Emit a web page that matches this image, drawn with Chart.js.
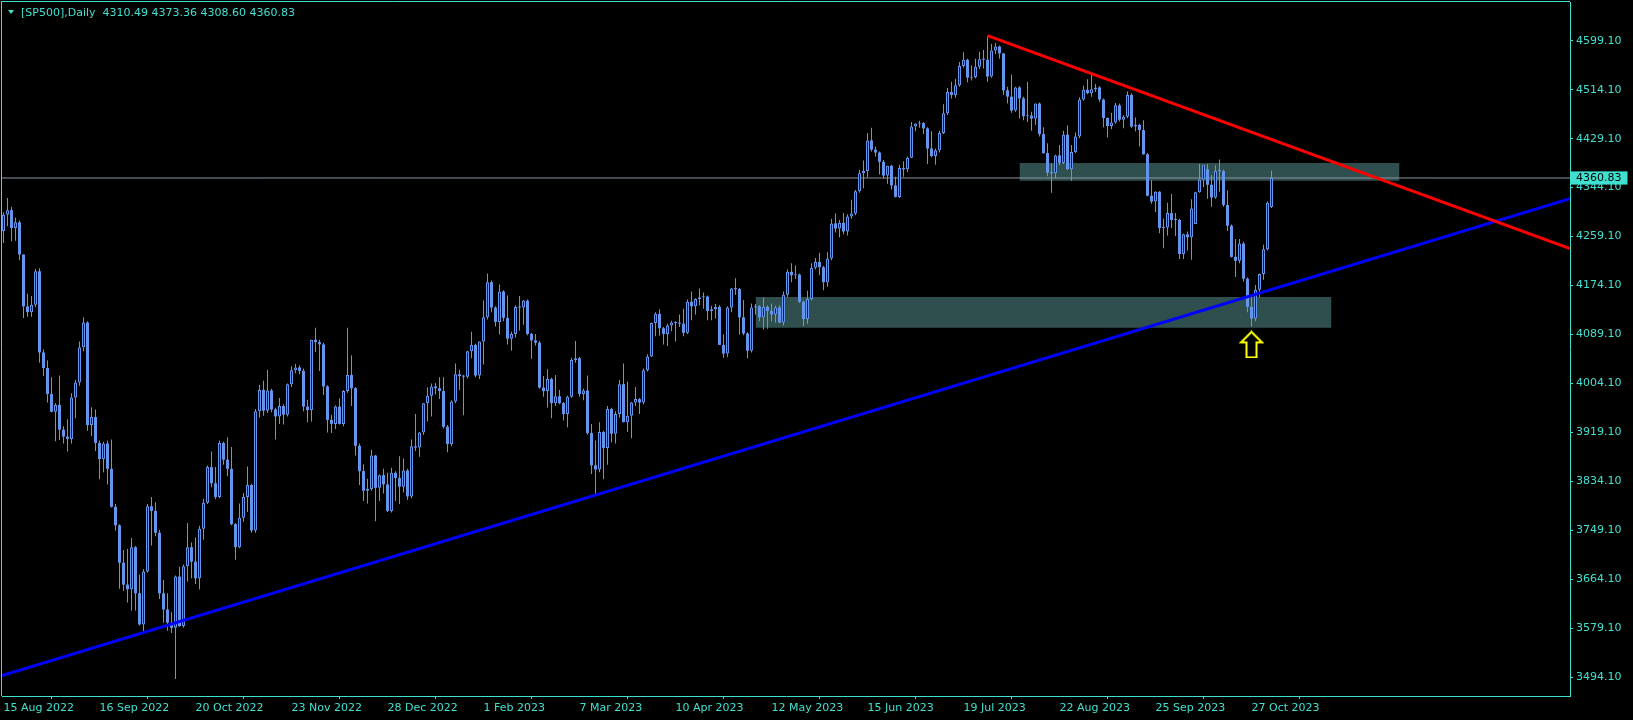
<!DOCTYPE html>
<html><head><meta charset="utf-8">
<script src="https://cdn.jsdelivr.net/npm/chart.js@4.4.0/dist/chart.umd.min.js"></script>
<style>
html,body{margin:0;padding:0;background:#000;overflow:hidden}
#wrap{position:relative;width:1633px;height:720px}
canvas{display:block}
#hdr{position:absolute;left:21px;top:6px;font:11px 'DejaVu Sans';color:#40E0D0;line-height:13px;white-space:pre}
#tri{position:absolute;left:8px;top:10px;width:0;height:0;border-left:3.5px solid transparent;border-right:3.5px solid transparent;border-top:4px solid #40E0D0}
</style></head>
<body><div id="wrap"><canvas id="c" width="1633" height="720"></canvas><div id="tri"></div><div id="hdr">[SP500],Daily  4310.49 4373.36 4308.60 4360.83</div></div>
<script>
// ---- data (daily bars, index 0 = 15 Aug 2022) ----
const opens = [4269,4297,4305,4274,4284,4228,4138,4128,4141,4199,4058,4031,3986,3955,3967,3924,3912,3908,3980,4006,
4067,4110,3932,3946,3901,3873,3900,3856,3790,3758,3693,3655,3647,3720,3640,3586,3678,3791,3783,3745,
3640,3612,3589,3580,3669,3583,3687,3720,3695,3666,3752,3797,3859,3831,3807,3901,3872,3856,3760,3720,
3771,3807,3828,3749,3956,3993,3957,3992,3959,3947,3965,3950,4003,4027,4032,4026,3964,3958,4080,4076,
4072,3999,3941,3934,3964,3934,3991,4019,3996,3896,3852,3818,3821,3879,3823,3845,3829,3783,3849,3840,
3825,3853,3808,3895,3893,3919,3970,3983,3999,3996,3991,3929,3899,3973,4020,4017,4016,4060,4071,4018,
4077,4119,4180,4136,4111,4164,4118,4082,4090,4137,4136,4148,4090,4079,4075,3997,3991,4012,3970,3982,
3970,3951,3981,4045,4048,3986,3992,3918,3862,3855,3920,3892,3960,3917,3951,4003,3937,3948,3971,3977,
3971,4027,4051,4109,4125,4100,4090,4105,4110,4109,4108,4092,4146,4138,4151,4154,4155,4130,4133,4137,
4071,4056,4136,4169,4168,4119,4091,4061,4136,4138,4119,4137,4130,4124,4136,4110,4158,4198,4192,4193,
4146,4116,4151,4205,4215,4206,4180,4221,4282,4273,4283,4268,4294,4299,4338,4369,4373,4426,4410,4405,
4389,4365,4382,4348,4328,4378,4376,4396,4450,4455,4456,4447,4412,4399,4409,4439,4473,4510,4505,4522,
4555,4566,4535,4536,4554,4567,4566,4537,4582,4589,4577,4513,4502,4478,4518,4499,4468,4469,4464,4490,
4437,4404,4370,4369,4400,4387,4436,4376,4406,4433,4497,4514,4508,4515,4518,4497,4465,4451,4457,4487,
4462,4467,4505,4450,4453,4444,4402,4330,4320,4337,4274,4275,4300,4288,4288,4229,4263,4258,4281,4336,
4358,4376,4349,4327,4373,4373,4314,4278,4224,4217,4247,4186,4137,4117,4167,4194,4237,4310.49];
const highs = [4301,4326,4311,4292,4287,4228,4160,4156,4203,4204,4063,4044,4015,3970,4018,3930,3942,3987,4010,4077,
4119,4112,3963,3959,3905,3903,3905,3907,3795,3760,3715,3717,3736,3722,3672,3682,3795,3807,3798,3750,
3663,3640,3607,3671,3686,3690,3762,3728,3737,3757,3804,3862,3886,3859,3905,3903,3911,3894,3762,3796,
3814,3860,3830,3960,4002,4009,4028,3995,3962,3979,3968,4004,4034,4038,4036,4030,3976,4080,4101,4080,
4075,4001,3950,3966,3978,3993,4101,4053,3998,3900,3864,3839,3889,3880,3846,3856,3849,3858,3852,3878,
3874,3856,3907,3951,3920,3970,3997,4004,4005,4015,4015,3932,3975,4039,4028,4019,4061,4094,4073,4077,
4148,4195,4183,4138,4176,4166,4157,4094,4140,4156,4149,4150,4092,4090,4078,4017,4029,4014,4019,3993,
3972,3983,4049,4078,4050,3995,4018,3934,3905,3937,3922,3965,3962,3956,4010,4039,4007,3972,3998,3979,
4030,4055,4110,4128,4133,4102,4108,4113,4112,4124,4134,4150,4164,4152,4169,4162,4157,4139,4142,4140,
4089,4138,4170,4187,4170,4149,4093,4143,4142,4140,4154,4140,4143,4139,4140,4164,4202,4213,4209,4195,
4148,4165,4213,4222,4231,4208,4232,4290,4299,4288,4300,4298,4323,4340,4375,4391,4439,4448,4415,4407,
4392,4382,4384,4363,4384,4390,4398,4458,4456,4460,4458,4449,4442,4412,4443,4489,4517,4528,4533,4562,
4579,4568,4556,4568,4580,4583,4607.8,4594,4595,4591,4578,4519,4540,4519,4520,4502,4528,4476,4490,4492,
4449,4421,4386,4401,4418,4443,4452,4418,4440,4501,4521,4532,4541,4524,4520,4499,4466,4474,4491,4490,
4470,4511,4508,4466,4455,4461,4404,4357,4338,4338,4290,4318,4333,4300,4290,4264,4268,4324,4337,4385,
4378,4385,4366,4383,4393,4375,4339,4280,4255,4255,4250,4188,4157,4175,4195,4245,4320,4373.36];
const lows = [4248,4277,4251,4252,4218,4118,4120,4120,4137,4040,4017,3971,3954,3904,3906,3900,3886,3900,3944,4000,
4060,3922,3913,3887,3838,3850,3829,3789,3749,3648,3644,3624,3610,3610,3584,3570,3676,3723,3739,3630,
3589,3575,3571,3491,3582,3580,3660,3666,3656,3647,3733,3795,3824,3803,3805,3863,3843,3758,3698,3718,
3764,3781,3745,3745,3945,3948,3953,3954,3907,3934,3933,3947,3998,4022,4020,3956,3937,3938,4059,4026,
3984,3919,3918,3925,3933,3930,3988,3965,3879,3828,3800,3796,3818,3765,3800,3813,3781,3780,3800,3795,
3815,3802,3805,3887,3877,3915,3938,3947,3985,3977,3926,3885,3895,3970,3993,3949,4013,4048,4015,4012,
4037,4115,4128,4103,4089,4112,4072,4061,4084,4096,4106,4088,4047,4070,3995,3981,3962,3944,3965,3968,
3940,3928,3979,4040,3981,3975,3915,3847,3808,3850,3838,3863,3902,3900,3945,3937,3920,3909,3965,3951,
3968,4025,4050,4086,4087,4072,4069,4095,4077,4102,4086,4090,4114,4124,4140,4134,4114,4114,4117,4071,
4049,4050,4128,4158,4089,4088,4048,4058,4124,4112,4098,4099,4112,4110,4109,4105,4154,4180,4186,4144,
4104,4108,4148,4202,4192,4166,4172,4218,4266,4258,4263,4261,4290,4296,4335,4343,4362,4407,4398,4367,
4360,4351,4341,4327,4326,4363,4371,4395,4442,4448,4437,4385,4397,4384,4405,4437,4470,4499,4500,4519,
4552,4527,4530,4534,4550,4551,4528,4535,4576,4568,4505,4490,4474,4476,4464,4461,4458,4443,4453,4433,
4403,4364,4335,4360,4383,4385,4375,4356,4404,4430,4495,4506,4502,4510,4493,4449,4431,4446,4455,4459,
4447,4465,4448,4442,4416,4401,4329,4316,4302,4265,4239,4261,4274,4260,4220,4220,4235,4219,4281,4335,
4345,4325,4311,4325,4337,4311,4269,4223,4189,4213,4181,4128,4103,4112,4154,4184,4235,4308.60];
const closes = [4297,4305,4274,4284,4228,4138,4128,4141,4199,4058,4031,3986,3955,3967,3924,3912,3908,3980,4006,4067,
4110,3932,3946,3901,3873,3900,3856,3790,3758,3693,3655,3647,3720,3640,3586,3678,3791,3783,3745,3640,
3612,3589,3580,3669,3583,3687,3720,3695,3666,3752,3797,3859,3831,3807,3901,3872,3856,3760,3720,3771,
3807,3828,3749,3956,3993,3957,3992,3959,3947,3965,3950,4003,4027,4032,4026,3964,3958,4080,4076,4072,
3999,3941,3934,3964,3934,3991,4019,3996,3896,3852,3818,3821,3879,3823,3845,3829,3783,3849,3840,3825,
3853,3808,3895,3893,3919,3970,3983,3999,3996,3991,3929,3899,3973,4020,4017,4016,4060,4071,4018,4077,
4119,4180,4136,4111,4164,4118,4082,4090,4137,4136,4148,4090,4079,4075,3997,3991,4012,3970,3982,3970,
3951,3981,4045,4048,3986,3992,3918,3862,3855,3920,3892,3960,3917,3951,4003,3937,3948,3971,3977,3971,
4027,4051,4109,4125,4100,4090,4105,4110,4109,4108,4092,4146,4138,4151,4154,4155,4130,4133,4137,4071,
4056,4136,4169,4168,4119,4091,4061,4136,4138,4119,4137,4130,4124,4136,4110,4158,4198,4192,4193,4146,
4116,4151,4205,4215,4206,4180,4221,4282,4273,4283,4268,4294,4299,4338,4369,4373,4426,4410,4405,4389,
4365,4382,4348,4328,4378,4376,4396,4450,4455,4456,4447,4412,4399,4409,4439,4473,4510,4505,4522,4555,
4566,4535,4536,4554,4567,4566,4537,4582,4589,4577,4513,4502,4478,4518,4499,4468,4469,4464,4490,4437,
4404,4370,4369,4400,4387,4436,4376,4406,4433,4497,4514,4508,4515,4518,4497,4465,4451,4457,4487,4462,
4467,4505,4450,4453,4444,4402,4330,4320,4337,4274,4275,4300,4288,4288,4229,4263,4258,4308,4336,4358,
4384,4349,4327,4373,4373,4314,4278,4224,4217,4247,4186,4137,4117,4167,4194,4237,4318,4360.83];

const xTickIndex = [0,24,48,72,96,120,144,168,192,216,240,264,288,312];
const xTickLabels = ['15 Aug 2022','16 Sep 2022','20 Oct 2022','23 Nov 2022','28 Dec 2022','1 Feb 2023','7 Mar 2023','10 Apr 2023','12 May 2023','15 Jun 2023','19 Jul 2023','22 Aug 2023','25 Sep 2023','27 Oct 2023'];
const yTickValues = [3494.10,3579.10,3664.10,3749.10,3834.10,3919.10,4004.10,4089.10,4174.10,4259.10,4344.10,4429.10,4514.10,4599.10];
const lastPrice = 4360.83;
const xRange = [-0.375, 391.625];
const yRange = [3461.7, 4666.3];
const redTrendX = [246, 391.625], redTrendY = [4607.8, 4238.3];
const blueTrendX = [-0.375, 391.625], blueTrendY = [3497.3, 4324.8];
const upperZoneX = [254, 349], upperZoneY = [4356.0, 4386.8];
const lowerZoneX = [188, 332], lowerZoneY = [4100.9, 4154.2];
const arrowX = 312, arrowY = 4072;

// ---- styles ----
const FG = '#40E0D0', CANDLE = '#6495ED', BULL_FILL = '#0000FF', ZONE = '#2F4F4F';
const FONT = {family: 'DejaVu Sans', size: 11};

const wickData = [], bullData = [], bearData = [];
for (let i = 0; i < closes.length; i++) {
  wickData.push({x: i, y: [lows[i], highs[i]]});
  if (closes[i] >= opens[i]) bullData.push({x: i, y: [opens[i], closes[i]]});
  else bearData.push({x: i, y: [closes[i], opens[i]]});
}

// arrow glyph as point style
const arrow = document.createElement('canvas');
arrow.width = 25; arrow.height = 28;
(function(){
  const g = arrow.getContext('2d');
  g.beginPath();
  g.moveTo(12.5, 1.5); g.lineTo(23, 12); g.lineTo(17.5, 12); g.lineTo(17.5, 27);
  g.lineTo(7.5, 27); g.lineTo(7.5, 12); g.lineTo(2, 12); g.closePath();
  g.fillStyle = '#000'; g.fill();
  g.strokeStyle = '#FFFF00'; g.lineWidth = 2; g.lineJoin = 'miter'; g.stroke();
})();

const barCommon = {categoryPercentage: 1, barPercentage: 1, grouped: false, inflateAmount: 0, borderSkipped: false, minBarLength: 1};
const frame = {
  id: 'frame',
  beforeDraw(chart) {
    const {ctx} = chart;
    ctx.save(); ctx.fillStyle = '#000'; ctx.fillRect(0, 0, chart.width, chart.height); ctx.restore();
  },
  afterDraw(chart) {
    const {ctx, chartArea: a} = chart;
    ctx.save(); ctx.strokeStyle = FG; ctx.lineWidth = 1;
    ctx.beginPath();
    ctx.moveTo(a.left - 0.5, a.bottom); ctx.lineTo(a.left - 0.5, a.top - 0.5); ctx.lineTo(a.right, a.top - 0.5);
    ctx.stroke(); ctx.restore();
  }
};

new Chart(document.getElementById('c'), {
  type: 'bar',
  data: {
    datasets: [
      {type: 'line', data: [{x: upperZoneX[0], y: upperZoneY[1]}, {x: upperZoneX[1], y: upperZoneY[1]}], borderWidth: 0, pointRadius: 0, backgroundColor: ZONE, fill: {value: upperZoneY[0]}, order: 20},
      {type: 'line', data: [{x: lowerZoneX[0], y: lowerZoneY[1]}, {x: lowerZoneX[1], y: lowerZoneY[1]}], borderWidth: 0, pointRadius: 0, backgroundColor: ZONE, fill: {value: lowerZoneY[0]}, order: 19},
      {type: 'line', data: [{x: xRange[0], y: lastPrice}, {x: xRange[1], y: lastPrice}], borderColor: '#8C96A0', borderWidth: 1, pointRadius: 0, fill: false, order: 15},
      Object.assign({data: wickData, backgroundColor: CANDLE, maxBarThickness: 1, order: 10}, barCommon),
      Object.assign({data: bearData, backgroundColor: CANDLE, maxBarThickness: 3, order: 9}, barCommon),
      Object.assign({data: bullData, backgroundColor: BULL_FILL, borderColor: CANDLE, borderWidth: 1, maxBarThickness: 3, order: 8}, barCommon),
      {type: 'line', data: [{x: blueTrendX[0], y: blueTrendY[0]}, {x: blueTrendX[1], y: blueTrendY[1]}], borderColor: '#0000FF', borderWidth: 3, pointRadius: 0, fill: false, order: 3},
      {type: 'line', data: [{x: redTrendX[0], y: redTrendY[0]}, {x: redTrendX[1], y: redTrendY[1]}], borderColor: '#FF0000', borderWidth: 3, pointRadius: 0, fill: false, order: 2},
      {type: 'scatter', data: [{x: arrowX, y: arrowY}], pointStyle: arrow, pointRadius: 10, order: 1}
    ]
  },
  options: {
    responsive: false, animation: false, devicePixelRatio: 1,
    layout: {autoPadding: false, padding: {left: 2, top: 2, right: 0, bottom: 0}},
    plugins: {legend: {display: false}, tooltip: {enabled: false}},
    events: [],
    scales: {
      x: {
        type: 'linear', min: xRange[0], max: xRange[1], offset: false,
        afterBuildTicks: s => { s.ticks = xTickIndex.map(v => ({value: v})); },
        afterFit: s => { s.height = 24; s.paddingLeft = 0; s.paddingRight = 0; },
        ticks: {autoSkip: false, maxRotation: 0, align: 'start', padding: 3, color: FG, font: FONT,
          callback: v => xTickLabels[xTickIndex.indexOf(v)]},
        grid: {drawOnChartArea: false, tickLength: 3, color: FG},
        border: {color: FG}
      },
      y: {
        type: 'linear', position: 'right', min: yRange[0], max: yRange[1],
        afterBuildTicks: s => { s.ticks = yTickValues.map(v => ({value: v})).concat([{value: lastPrice}]); },
        afterFit: s => { s.width = 63; s.paddingTop = 0; s.paddingBottom = 0; },
        ticks: {autoSkip: false, padding: 3, font: FONT,
          color: c => c.tick && c.tick.value === lastPrice ? '#000' : FG,
          showLabelBackdrop: c => !!(c.tick && c.tick.value === lastPrice),
          backdropColor: FG, backdropPadding: {left: 5, right: 6, top: 0, bottom: 0},
          callback: v => v.toFixed(2)},
        grid: {drawOnChartArea: false, tickLength: 3, color: c => c.tick && c.tick.value === lastPrice ? 'rgba(0,0,0,0)' : FG},
        border: {color: FG}
      }
    }
  },
  plugins: [frame]
});
</script>
</body></html>
